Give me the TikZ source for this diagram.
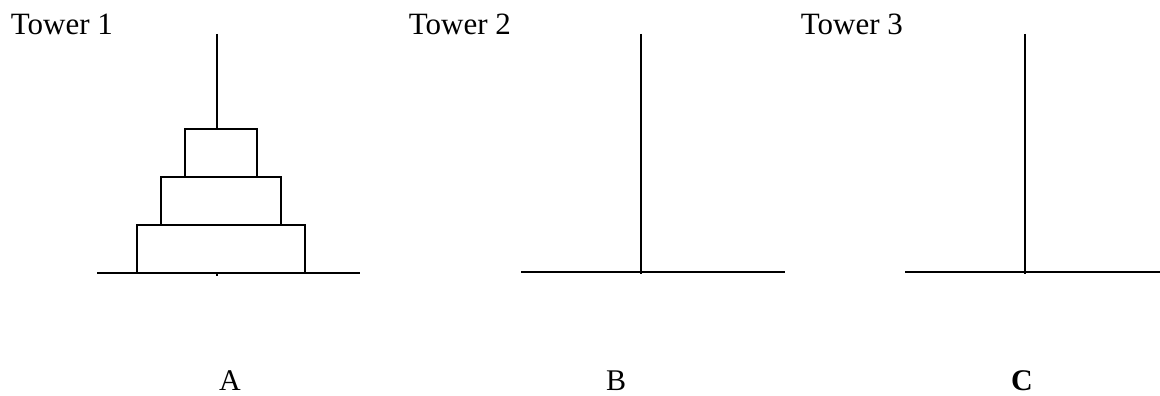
\documentclass[tikz,border=0pt]{standalone}
\usepackage{fontspec}
\setmainfont{Liberation Serif}
\begin{document}
\begin{tikzpicture}[x=1pt,y=-1pt,line width=1.8pt,
  title/.style={anchor=base west,inner sep=0pt,font=\fontsize{31}{36}\selectfont},
  letter/.style={anchor=base,inner sep=0pt,font=\fontsize{30}{36}\selectfont},
  disk/.style={draw,fill=white,line width=1.8pt,inner sep=0pt,outer sep=0pt}]
\useasboundingbox (0,0) rectangle (1160,396);
% titles
\node[title] (t1) at (10,35) {Tower 1};
\node[title] (t2) at (408,35) {Tower 2};
\node[title] (t3) at (800,35) {Tower 3};
% tower A
\coordinate (pa1) at (217,34);
\coordinate (pa2) at (217,276);
\coordinate (ba1) at (97,273);
\coordinate (ba2) at (360,273);
\draw (pa1) -- (pa2);
\draw (ba1) -- (ba2);
\node[disk,minimum width=168pt,minimum height=48pt] (d3) at (221,249) {};
\node[disk,minimum width=120pt,minimum height=48pt] (d2) at (221,201) {};
\node[disk,minimum width=72pt,minimum height=48pt] (d1) at (221,153) {};
% tower B
\coordinate (pb1) at (641,34);
\coordinate (pb2) at (641,274);
\coordinate (bb1) at (521,272);
\coordinate (bb2) at (785,272);
\draw (pb1) -- (pb2);
\draw (bb1) -- (bb2);
% tower C
\coordinate (pc1) at (1025,34);
\coordinate (pc2) at (1025,274);
\coordinate (bc1) at (905,272);
\coordinate (bc2) at (1160,272);
\draw (pc1) -- (pc2);
\draw (bc1) -- (bc2);
% letters
\node[letter] (la) at (230,390) {A};
\node[letter] (lb) at (616,390) {B};
\node[letter] (lc) at (1022,390) {\bfseries C};
\end{tikzpicture}
\end{document}
